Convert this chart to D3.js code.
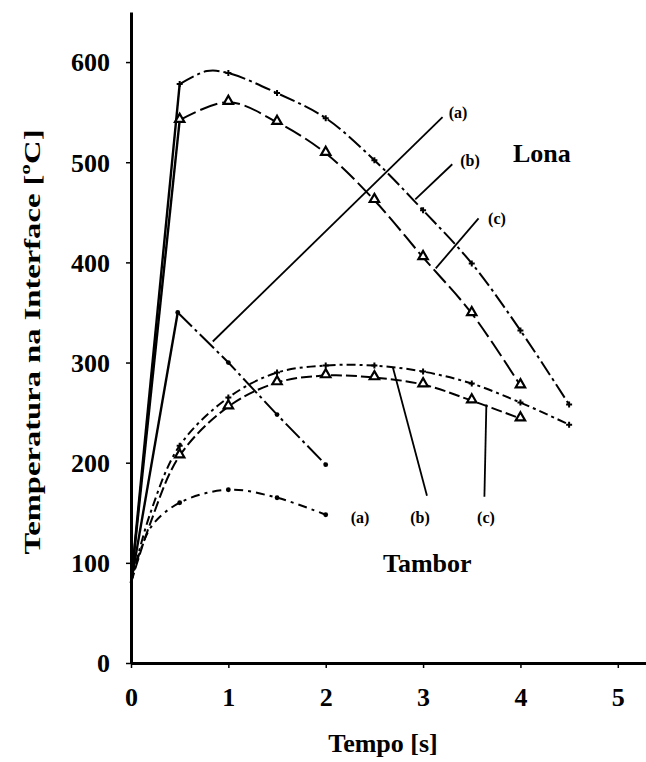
<!DOCTYPE html>
<html>
<head>
<meta charset="utf-8">
<script src="https://cdn.jsdelivr.net/npm/d3@7"></script>
<style>
  body { margin: 0; background: #fff; }
  svg { display: block; }
  text { font-family: "Liberation Serif", "Times New Roman", serif; font-weight: bold; fill: #000; }
</style>
</head>
<body>
<svg id="chart" width="646" height="762"></svg>
<script>
// tick labels
const xTicks = [0, 1, 2, 3, 4, 5];
const yTicks = [0, 100, 200, 300, 400, 500, 600];

// Lona (pad) curves
const lonaA_t = [0, 0.48, 1.0, 1.5, 2.0];
const lonaA_T = [80, 350, 300, 248, 198];
const lonaB_t = [0, 0.5, 0.78, 1.0, 1.5, 2.0, 2.5, 3.0, 3.5, 4.0, 4.5];
const lonaB_T = [80, 578, 591, 589, 569, 544, 502, 452, 399, 332, 258];
const lonaC_t = [0, 0.5, 1.0, 1.5, 2.0, 2.5, 3.0, 3.5, 4.0];
const lonaC_T = [80, 542, 560, 540, 509, 462, 405, 349, 277];

// Tambor (drum) curves
const tamborA_t = [0, 0.2, 0.5, 1.0, 1.5, 2.0];
const tamborA_T = [80, 135, 160, 173, 165, 148];
const tamborB_t = [0, 0.2, 0.5, 1.0, 1.5, 2.0, 2.5, 3.0, 3.5, 4.0, 4.5];
const tamborB_T = [80, 150, 217, 265, 290, 297, 297, 291, 279, 260, 238];
const tamborC_t = [0, 0.2, 0.5, 1.0, 1.5, 2.0, 2.5, 3.0, 3.5, 4.0];
const tamborC_T = [80, 140, 207, 256, 280, 287, 285, 278, 262, 244];

const zip = (ts, vs) => ts.map((t, i) => ({t: t, v: vs[i]}));

const series = [
  {pts: zip(lonaA_t, lonaA_T), dash: "20,4,3,4", marker: "dot", solidRise: true, curve: d3.curveLinear},
  {pts: zip(lonaB_t, lonaB_T), dash: "16,4,3,4", marker: "plus", solidRise: true, curve: d3.curveCatmullRom},
  {pts: zip(lonaC_t, lonaC_T), dash: "18,5", marker: "tri", solidRise: true, curve: d3.curveCatmullRom},
  {pts: zip(tamborA_t, tamborA_T), dash: "9,5,3,5", marker: "dot", solidRise: false, curve: d3.curveCatmullRom},
  {pts: zip(tamborB_t, tamborB_T), dash: "9,4,3,4", marker: "plus", solidRise: false, curve: d3.curveCatmullRom},
  {pts: zip(tamborC_t, tamborC_T), dash: "11,4", marker: "tri", solidRise: false, curve: d3.curveCatmullRom}
];

// leader lines [t1, T1, t2, T2]
const leaders = [
  [3.20, 545, 0.84, 321],
  [3.30, 498, 2.92, 463],
  [3.57, 444, 3.13, 394],
  [3.04, 167, 2.69, 295],
  [3.63, 166, 3.65, 258]
];
const curveLabels = ["(a)", "(b)", "(c)", "(a)", "(b)", "(c)"];
const curveLabelPos = [[458, 118], [470, 166], [497, 224], [360, 523], [420, 523], [486, 523]];

const svg = d3.select("#chart");
const x = d3.scaleLinear().domain([0, 5.3]).range([131, 647]);
const y = d3.scaleLinear().domain([0, 650]).range([663, 12]);

// axes
const xAxis = svg.append("g").attr("transform", "translate(0,663)")
  .call(d3.axisBottom(x).tickValues(xTicks).tickFormat(d3.format("d"))
    .tickSize(5).tickSizeOuter(0).tickPadding(20));
const yAxis = svg.append("g").attr("transform", "translate(131,0)")
  .call(d3.axisLeft(y).tickValues(yTicks).tickFormat(d3.format("d"))
    .tickSize(5).tickSizeOuter(0).tickPadding(16));
[xAxis, yAxis].forEach(a => {
  a.select(".domain").attr("stroke", "#000").attr("stroke-width", 3);
  a.selectAll(".tick line").attr("stroke", "#000").attr("stroke-width", 1.5);
  a.selectAll(".tick text").style("font-family", "Liberation Serif, serif")
    .style("font-weight", "bold").attr("font-size", 26).attr("fill", "#000");
});
yAxis.selectAll(".tick text").attr("dy", "0.34em");

const line = d3.line().x(d => x(d.t)).y(d => y(d.v));

series.forEach(s => {
  const g = svg.append("g");
  let rest = s.pts;
  if (s.solidRise) {
    g.append("path").datum(s.pts.slice(0, 2))
      .attr("d", line.curve(d3.curveLinear))
      .attr("fill", "none").attr("stroke", "#000").attr("stroke-width", 2.4);
    rest = s.pts.slice(1);
  }
  g.append("path").datum(rest)
    .attr("d", line.curve(s.curve))
    .attr("fill", "none").attr("stroke", "#000").attr("stroke-width", 2)
    .attr("stroke-dasharray", s.dash);

  const mk = s.pts.filter(d => d.t > 0 && Number.isInteger(d.t * 2) || (d.t === 0.48));
  if (s.marker === "tri") {
    g.selectAll("path.m").data(mk).enter().append("path")
      .attr("class", "m")
      .attr("d", d3.symbol(d3.symbolTriangle, 38))
      .attr("transform", d => `translate(${x(d.t)},${y(d.v) - 1})`)
      .attr("fill", "#fff").attr("stroke", "#000").attr("stroke-width", 2.2);
  } else if (s.marker === "plus") {
    g.selectAll("path.m").data(mk).enter().append("path")
      .attr("class", "m")
      .attr("d", d3.symbol(d3.symbolCross, 20))
      .attr("transform", d => `translate(${x(d.t)},${y(d.v)})`)
      .attr("fill", "#000");
  } else {
    g.selectAll("circle").data(mk).enter().append("circle")
      .attr("cx", d => x(d.t)).attr("cy", d => y(d.v)).attr("r", 2.4)
      .attr("fill", "#000");
  }
});

// leader lines
svg.append("g").selectAll("line").data(leaders).enter().append("line")
  .attr("x1", d => x(d[0])).attr("y1", d => y(d[1]))
  .attr("x2", d => x(d[2])).attr("y2", d => y(d[3]))
  .attr("stroke", "#000").attr("stroke-width", 1.8);

svg.append("g").selectAll("text").data(curveLabels).enter().append("text")
  .attr("x", (d, i) => curveLabelPos[i][0]).attr("y", (d, i) => curveLabelPos[i][1])
  .attr("text-anchor", "middle").attr("font-size", 16)
  .text(d => d);

svg.append("text").attr("x", 513).attr("y", 162).attr("font-size", 26).text("Lona");
svg.append("text").attr("x", 383).attr("y", 572).attr("font-size", 26).text("Tambor");

// axis titles
svg.append("text").attr("x", 383).attr("y", 752).attr("text-anchor", "middle")
  .attr("font-size", 26).text("Tempo [s]");
svg.append("text").attr("transform", "translate(40,342) rotate(-90)")
  .attr("text-anchor", "middle").attr("font-size", 24)
  .attr("textLength", 425).attr("lengthAdjust", "spacingAndGlyphs")
  .attr("fill", "#000")
  .text("Temperatura na Interface [ºC]");
</script>
</body>
</html>
